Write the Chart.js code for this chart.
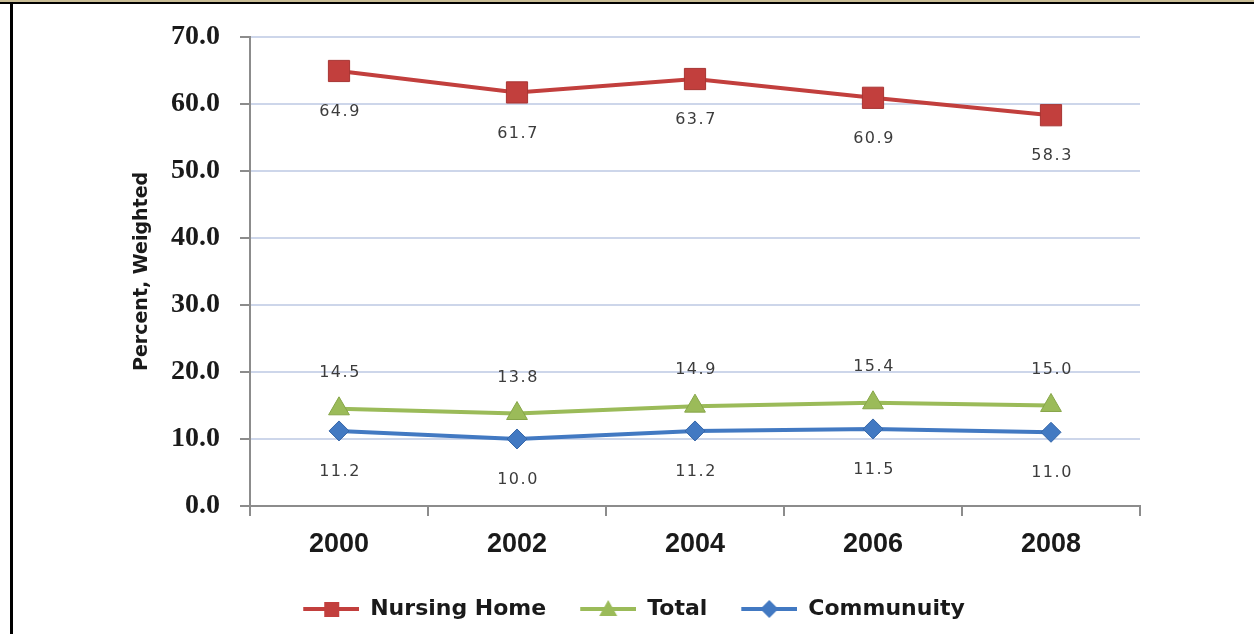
<!DOCTYPE html>
<html>
<head>
<title>Chart</title>
<meta charset="UTF-8">
<script src="https://cdn.jsdelivr.net/npm/chart.js@4.4.1/dist/chart.umd.min.js"></script>
<style>
    body { margin: 0; background: #fff; }
    #wrap { position: absolute; left: 0; top: 0; width: 1254px; height: 634px; }
    #topStrip { position: absolute; left: 0; top: 0; width: 1254px; height: 2px; background: #c9bd96; }
    #topLine { position: absolute; left: 0; top: 2px; width: 1254px; height: 2px; background: #000; }
    #leftLine { position: absolute; left: 10px; top: 2px; width: 3px; height: 632px; background: #000; }
</style>
</head>
<body>
<div id="wrap"><canvas id="chart"></canvas></div>
<div id="topStrip"></div><div id="topLine"></div><div id="leftLine"></div>
<script>
    // values
    const years = ['2000', '2002', '2004', '2006', '2008'];
    const nursingHome = [64.9, 61.7, 63.7, 60.9, 58.3];
    const total = [14.5, 13.8, 14.9, 15.4, 15.0];
    const community = [11.2, 10.0, 11.2, 11.5, 11.0];
    const yTicks = [0, 10, 20, 30, 40, 50, 60, 70];

    const red = '#c23f3d';
    const green = '#9bbb59';
    const blue = '#4279c2';

    // value labels drawn under / over each point
    const labelOffsets = [41, -36, 41];
    const pointLabels = {
        id: 'pointLabels',
        afterDatasetsDraw(chart) {
            const ctx = chart.ctx;
            ctx.save();
            ctx.font = '16px "DejaVu Sans"';
            ctx.letterSpacing = '1.5px';
            ctx.fillStyle = '#3c3c3c';
            ctx.textAlign = 'center';
            ctx.textBaseline = 'middle';
            chart.data.datasets.forEach((ds, i) => {
                chart.getDatasetMeta(i).data.forEach((pt, j) => {
                    ctx.fillText(ds.data[j].toFixed(1), pt.x + 1, pt.y + labelOffsets[i]);
                });
            });
            ctx.restore();
        }
    };

    // line + marker swatch for the legend
    function legendIcon(color, shape) {
        const c = document.createElement('canvas');
        c.width = 74; c.height = 24;
        const g = c.getContext('2d');
        g.strokeStyle = color; g.lineWidth = 4;
        g.beginPath(); g.moveTo(18, 12); g.lineTo(74, 12); g.stroke();
        g.fillStyle = color;
        g.beginPath();
        if (shape === 'rect') g.rect(39, 5, 15, 15);
        else if (shape === 'triangle') { g.moveTo(46, 3); g.lineTo(55, 19); g.lineTo(37, 19); }
        else { g.moveTo(46, 3); g.lineTo(55, 12); g.lineTo(46, 21); g.lineTo(37, 12); }
        g.closePath(); g.fill();
        return c;
    }
    const icons = [legendIcon(red, 'rect'), legendIcon(green, 'triangle'), legendIcon(blue, 'diamond')];

    const axisGray = '#8c8c8c';
    const textColor = '#1a1a1a';

    new Chart(document.getElementById('chart'), {
        type: 'line',
        data: {
            labels: years,
            datasets: [
                {
                    label: 'Nursing Home', data: nursingHome,
                    borderColor: red, backgroundColor: red, borderWidth: 4,
                    pointStyle: 'rect', pointRadius: 15, pointBorderWidth: 1, pointBorderColor: '#a83533'
                },
                {
                    label: 'Total', data: total,
                    borderColor: green, backgroundColor: green, borderWidth: 4,
                    pointStyle: 'triangle', pointRadius: 12, pointBorderWidth: 1, pointBorderColor: '#86a548'
                },
                {
                    label: 'Communuity', data: community,
                    borderColor: blue, backgroundColor: blue, borderWidth: 4,
                    pointStyle: 'rectRot', pointRadius: 10, pointBorderWidth: 1, pointBorderColor: '#3566a8'
                }
            ]
        },
        options: {
            responsive: true,
            maintainAspectRatio: false,
            animation: false,
            layout: { padding: { left: 110, right: 114, top: 35, bottom: 4 } },
            elements: { line: { tension: 0 } },
            plugins: {
                tooltip: { enabled: false },
                legend: {
                    position: 'bottom',
                    labels: {
                        usePointStyle: true,
                        pointStyleWidth: 74,
                        padding: 16,
                        color: textColor,
                        font: { family: 'DejaVu Sans', size: 22, weight: 'bold' },
                        generateLabels(chart) {
                            const items = Chart.defaults.plugins.legend.labels.generateLabels(chart);
                            items.forEach((it, i) => { it.pointStyle = icons[i]; });
                            return items;
                        }
                    }
                }
            },
            scales: {
                x: {
                    offset: true,
                    grid: { offset: true, drawOnChartArea: false, tickLength: 10, tickColor: axisGray, lineWidth: 2 },
                    border: { color: axisGray, width: 2 },
                    ticks: { color: textColor, padding: 12, font: { family: 'Liberation Sans', size: 27, weight: 'bold' } },
                    afterFit(s) { s.height = 76; }
                },
                y: {
                    min: yTicks[0],
                    max: yTicks[yTicks.length - 1],
                    afterBuildTicks(s) { s.ticks = yTicks.map(v => ({ value: v })); },
                    grid: { color: '#cdd6ea', lineWidth: 2, tickLength: 10, tickColor: axisGray },
                    border: { color: axisGray, width: 2 },
                    ticks: {
                        color: textColor, padding: 20,
                        font: { family: 'Liberation Serif', size: 28, weight: 'bold' },
                        callback: v => Number(v).toFixed(1)
                    },
                    title: {
                        display: true, text: 'Percent, Weighted', color: textColor,
                        font: { family: 'DejaVu Sans', size: 19, weight: 'bold' },
                        padding: { top: 21, bottom: 0 }
                    },
                    afterFit(s) { s.width = 140; }
                }
            }
        },
        plugins: [pointLabels]
    });
</script>
</body>
</html>
